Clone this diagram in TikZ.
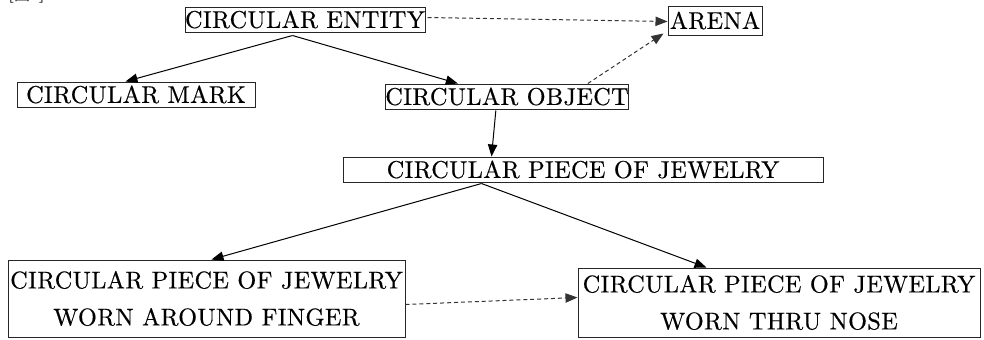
\documentclass[tikz,border=0pt]{standalone}
\usepackage{fontspec}
\setmainfont{lmroman10-regular}[Extension=.otf]
\newfontfamily\boxfont{lmroman10-regular}[Extension=.otf,LetterSpace=1.5,FakeBold=0.5]
\newfontfamily\cjk{Noto Sans CJK JP}
\usetikzlibrary{arrows.meta,calc}
\tikzset{
  box/.style={draw=black!85, line width=0.75pt, inner sep=0pt, align=center,
    font=\boxfont\fontsize{18.2pt}{27.75pt}\selectfont},
  link/.style={draw=black, line width=0.75pt, -{Triangle[length=9pt,width=7pt]}},
  dlink/.style={link, dash pattern=on 3pt off 2.2pt, draw=black!80},
}
\begin{document}
\begin{tikzpicture}[x=0.75pt,y=-0.75pt]
\useasboundingbox (0,0) rectangle (984,339);
\node[anchor=base west, font=\cjk\fontsize{12pt}{12pt}\selectfont, text=black!85] (fig) at (4,1) {[図1]};
\node[box, minimum width=180pt, minimum height=18.75pt] (entity) at (305,19.5) {CIRCULAR ENTITY};
\node[box, minimum width=70.5pt, minimum height=21.75pt] (arena) at (715,20.5) {ARENA};
\node[box, minimum width=178.5pt, minimum height=18.75pt] (mark) at (136,94.5) {CIRCULAR MARK};
\node[box, minimum width=180pt, minimum height=18.75pt] (object) at (507,96.5) {CIRCULAR OBJECT};
\node[box, minimum width=360pt, minimum height=18.75pt] (jewel) at (583,169.5) {CIRCULAR PIECE OF JEWELRY};
\node[box, minimum width=297.75pt, minimum height=57.75pt] (finger) at (206.5,298.5) {CIRCULAR PIECE OF JEWELRY\\WORN AROUND FINGER};
\node[box, minimum width=301.5pt, minimum height=51.75pt] (nose) at (779,302.5) {CIRCULAR PIECE OF JEWELRY\\WORN THRU NOSE};
% connectors
\draw[link] ($(entity.south west)+(108,3)$) -- ($(mark.north west)+(109,0)$);
\draw[link] ($(entity.south west)+(108,3)$) -- ($(object.north west)+(73,0)$);
\draw[dlink] ($(entity.north east)+(2,11)$) -- ($(arena.north west)+(0,16)$);
\draw[dlink] ($(object.north west)+(203,0)$) -- ($(arena.south west)+(-4,-2)$);
\draw[link] ($(object.south west)+(111,1)$) -- ($(jewel.north west)+(149,0)$);
\draw[link] ($(jewel.south west)+(139,1)$) -- ($(finger.north west)+(204,0)$);
\draw[link] ($(jewel.south west)+(139,1)$) -- ($(nose.north west)+(129,0)$);
\draw[dlink] ($(finger.south east)+(0,-33)$) -- ($(nose.north west)+(0,30)$);
\end{tikzpicture}
\end{document}
